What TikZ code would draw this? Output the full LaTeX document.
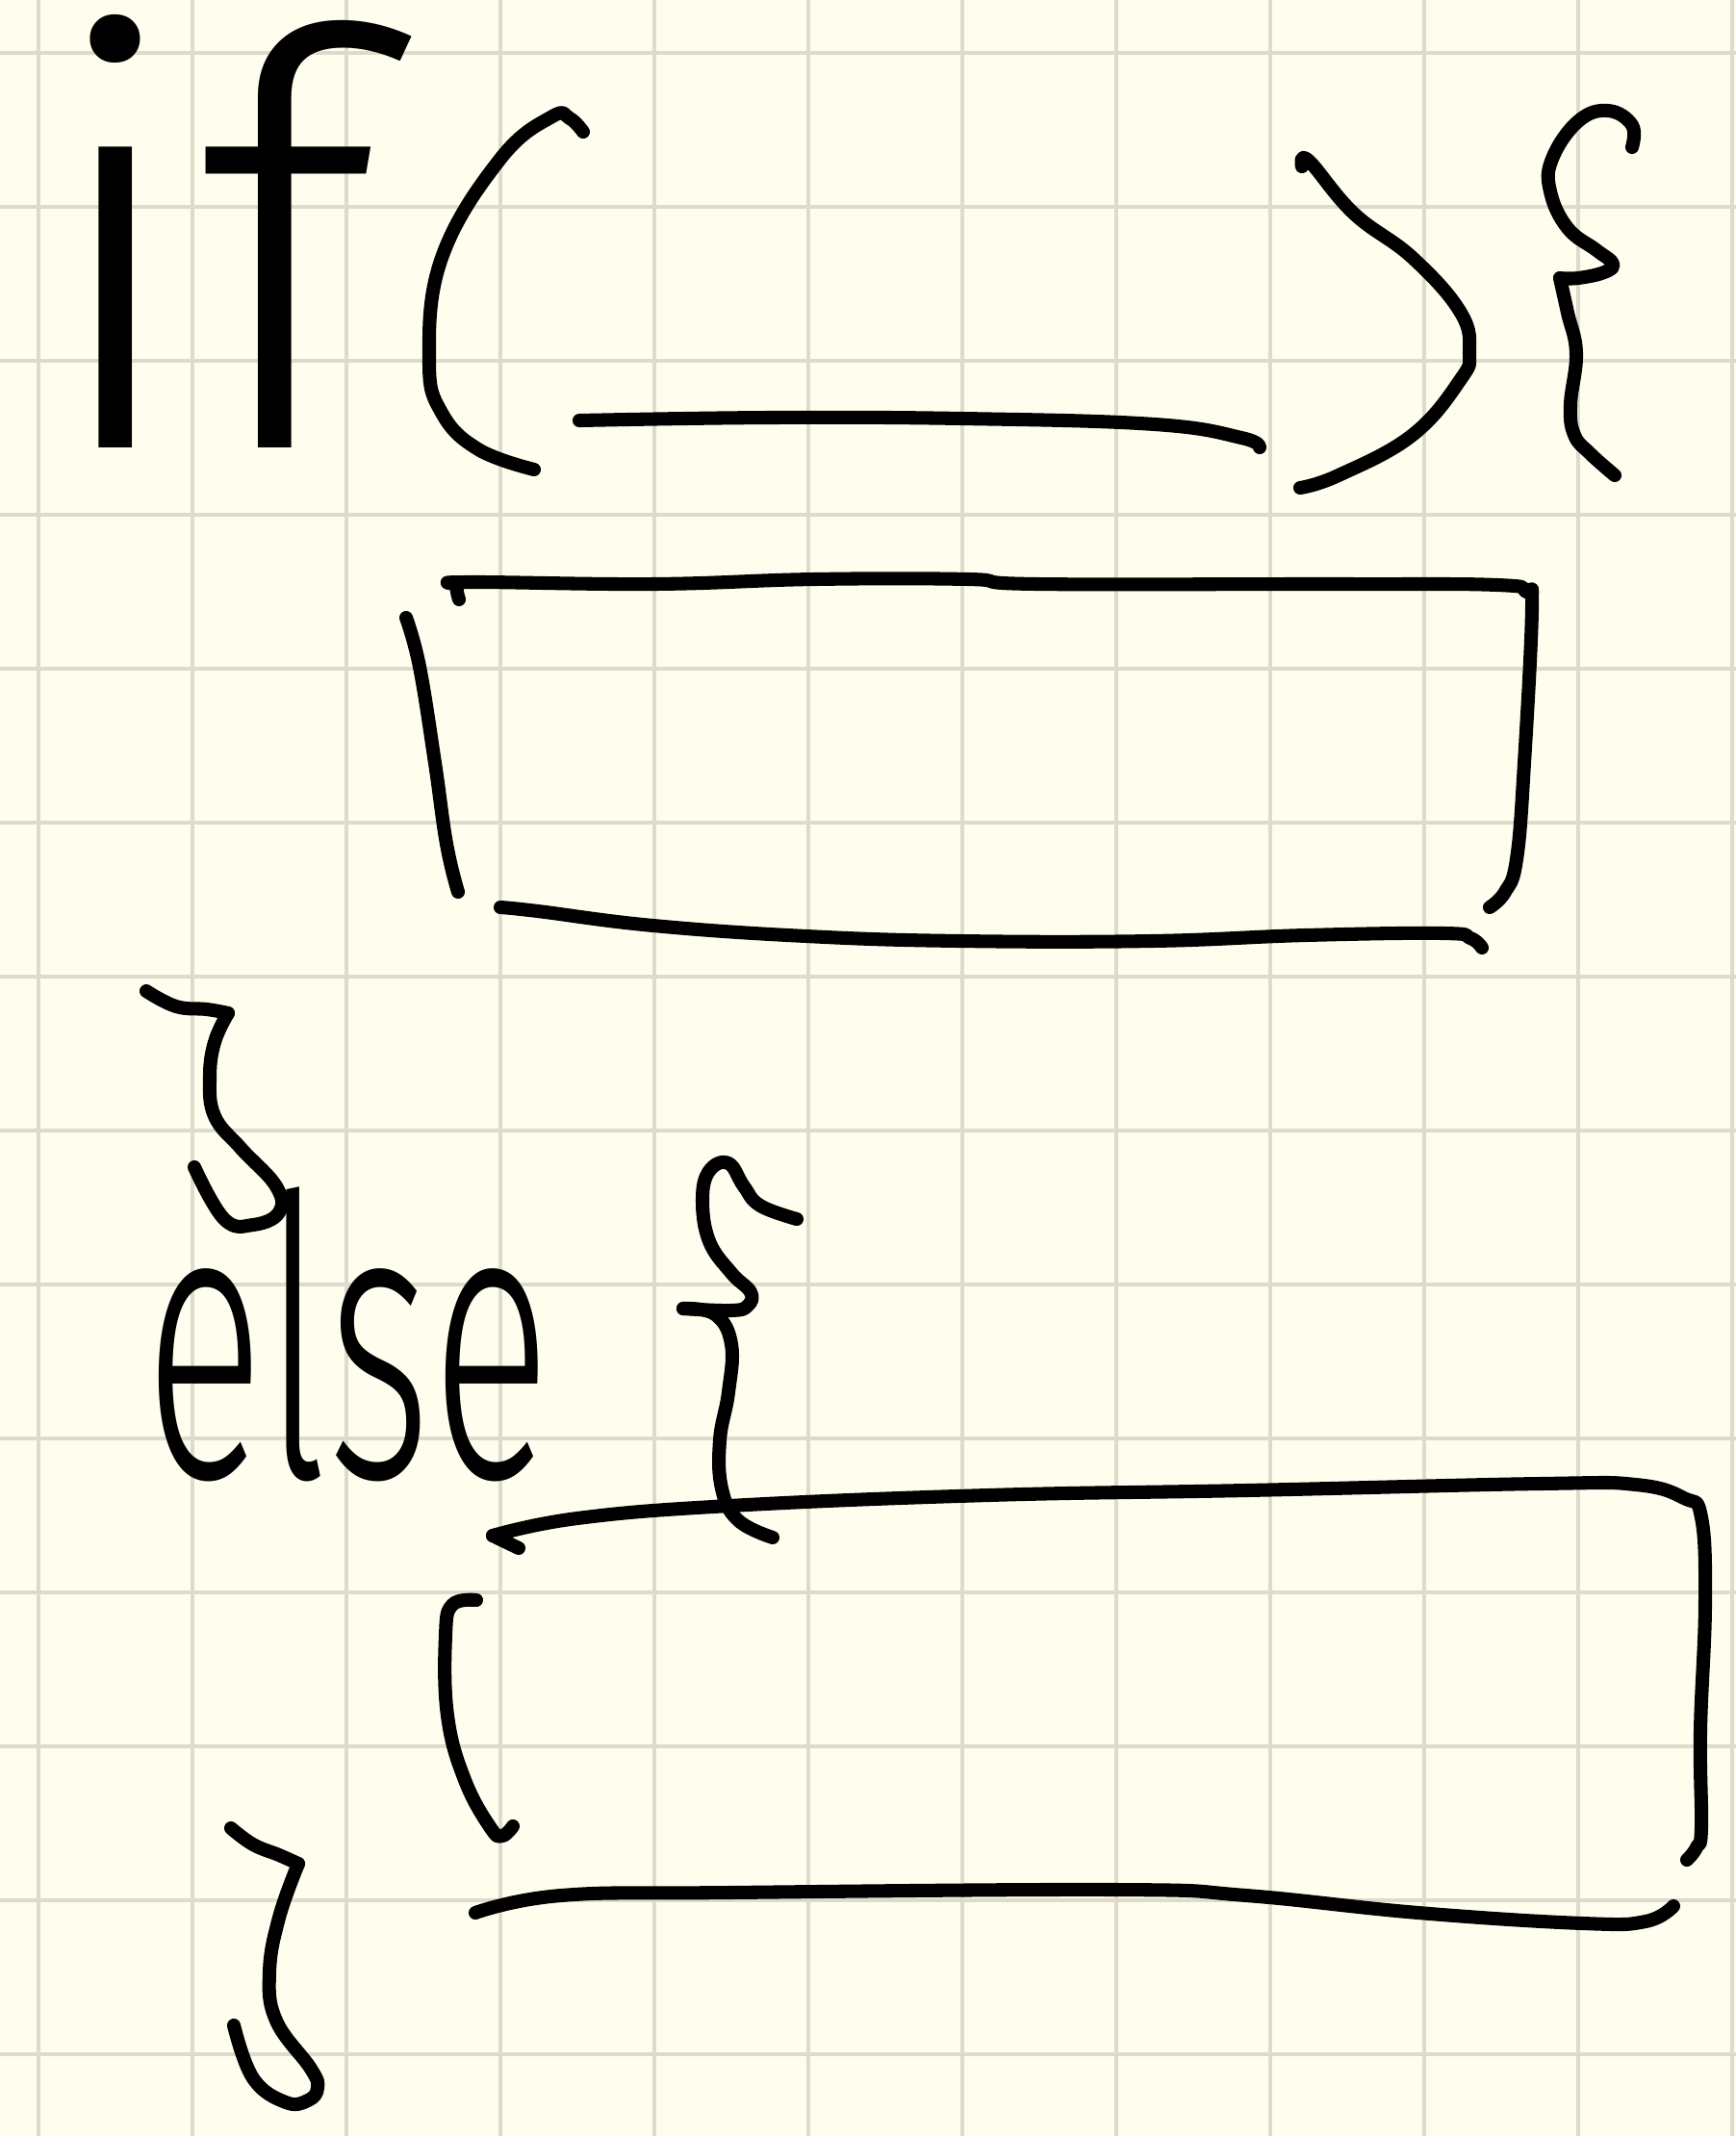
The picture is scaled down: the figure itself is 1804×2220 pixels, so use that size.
\documentclass[tikz,border=0pt]{standalone}
\usepackage{fontspec}
\newfontfamily\handfont{Fira Sans Light}
\definecolor{paper}{RGB}{254,253,238}
\definecolor{gridc}{RGB}{222,219,204}
\tikzset{
  pen/.style={line width=4pt, line cap=round, line join=round, black},
  gridline/.style={line width=1.1pt, gridc},
  handtext/.style={inner sep=0pt, outer sep=0pt, text=black, font=\handfont},
  sm/.style={smooth, tension=0.7}
}
\begin{document}
\begin{tikzpicture}[x=0.01cm, y=-0.01cm]
\useasboundingbox (0,0) rectangle (1804,2220);
\fill[paper] (0,0) rectangle (1804,2220);
% grid
\foreach \gx in {40,200,...,1800} \draw[gridline] (\gx,0) -- (\gx,2220);
\foreach \gy in {55,215,...,2135} \draw[gridline] (0,\gy) -- (1804,\gy);

% keywords
\node[handtext, anchor=base west] (kwif) at (40,465) {\fontsize{170}{170}\selectfont if};
\node[handtext, anchor=base west] (kwelse) at (150,1535) {\scalebox{0.6}[1.05]{\fontsize{110}{110}\selectfont else}};

% ( of condition
\draw[pen] plot[sm] coordinates {(606,137) (592,123) (574,121) (520,165) (459,268) (446,375) (459,429) (497,467) (555,488)};
% blank of condition
\draw[pen] plot[sm] coordinates {(602,437) (800,434) (1000,435) (1200,441) (1290,455) (1309,465)};
% )
\draw[pen] plot[sm] coordinates {(1353,173) (1360,167) (1407,222) (1468,268) (1518,325) (1527,367) (1518,394) (1468,452) (1391,494) (1351,507)};
% { after if
\draw[pen] plot[sm] coordinates {(1696,153) (1696,130) (1671,115) (1640,126) (1613,165) (1611,199) (1629,237) (1659,260) (1676,274) (1667,283) (1640,289) (1621,289)};
\draw[pen] plot[sm] coordinates {(1621,289) (1629,325) (1638,367) (1632,421) (1636,452) (1652,471) (1678,494)};

% if-body box
\draw[pen] plot[sm] coordinates {(477,623) (475,609) (485,605) (679,607) (846,602) (1006,602) (1078,607) (1396,607) (1556,608) (1586,615) (1592,632) (1584,793) (1576,893) (1564,927) (1548,943)};
\draw[pen] plot[sm] coordinates {(422,642) (436,693) (452,793) (464,877) (476,927)};
\draw[pen] plot[sm] coordinates {(520,943) (559,947) (679,962) (838,973) (998,978) (1197,978) (1357,972) (1500,970) (1528,975) (1540,985)};

% } closing if
\draw[pen] plot[sm] coordinates {(152,1030) (183,1046) (215,1049) (237,1053)};
\draw[pen] plot[sm] coordinates {(237,1053) (223,1083) (218,1120) (223,1160) (250,1193) (287,1233) (290,1260) (263,1273) (233,1267) (202,1213)};

% { after else
\draw[pen] plot[sm] coordinates {(828,1267) (790,1253) (773,1233) (757,1209) (737,1217) (730,1247) (737,1290) (760,1323) (780,1343) (777,1357) (760,1362) (710,1360)};
\draw[pen] plot[sm] coordinates {(710,1360) (743,1366) (760,1397) (757,1447) (748,1497) (750,1547) (767,1580) (803,1598)};

% else-body box
\draw[pen] (539,1609) -- (512,1596);
\draw[pen] plot[sm] coordinates {(512,1596) (600,1578) (758,1565) (1027,1554) (1295,1549) (1600,1542) (1700,1543) (1750,1557) (1768,1577) (1772,1667) (1767,1800) (1768,1900) (1763,1920) (1753,1933)};
\draw[pen] plot[sm] coordinates {(495,1663) (470,1668) (463,1700) (465,1783) (483,1850) (510,1900) (522,1908) (533,1898)};
\draw[pen] plot[sm] coordinates {(494,1988) (583,1970) (758,1967) (1161,1964) (1295,1970) (1474,1988) (1645,1999) (1710,1997) (1739,1981)};

% final }
\draw[pen] plot[sm] coordinates {(240,1900) (263,1917) (290,1928) (310,1937)};
\draw[pen] plot[sm] coordinates {(310,1937) (290,1993) (280,2050) (287,2100) (323,2150) (330,2170) (320,2183) (297,2185) (263,2160) (243,2105)};
\end{tikzpicture}
\end{document}
